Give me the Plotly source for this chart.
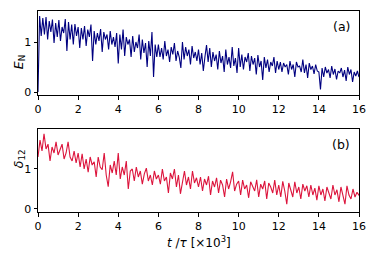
import numpy as np
import plotly.graph_objects as go
from plotly.subplots import make_subplots

# E_N, sampled every 0.08 (x10^3 tau)
e_n = [
    0.00, 1.52, 1.12, 1.48, 1.15, 1.50, 1.05, 1.42, 1.20, 1.45, 0.98, 1.38, 1.10, 1.44, 1.02, 1.30, 1.18, 1.46, 0.82, 1.40, 1.05, 1.35, 0.95, 1.36, 1.12,
    1.30, 0.88, 1.28, 1.05, 1.32, 0.92, 1.25, 1.10, 1.35, 0.62, 1.22, 0.95, 1.18, 1.02, 1.26, 0.80, 1.20, 1.05, 1.15, 0.85, 1.22, 0.95, 1.10, 0.90, 1.18,
    0.57, 1.15, 0.85, 1.25, 0.72, 1.10, 0.95, 1.05, 0.70, 1.12, 0.80, 1.00, 0.88, 1.15, 0.65, 1.05, 0.78, 0.98, 0.50, 1.02, 0.72, 1.20, 0.30, 0.95, 0.70,
    0.95, 0.70, 0.88, 0.65, 1.02, 0.72, 0.85, 0.60, 0.90, 0.75, 0.98, 0.62, 0.82, 0.70, 0.48, 1.00, 0.65, 0.90, 0.72, 0.85, 0.55, 0.92, 0.68, 0.80, 0.62,
    0.85, 0.55, 0.78, 0.42, 0.70, 0.94, 0.60, 0.88, 0.50, 0.80, 0.62, 0.75, 0.45, 0.82, 0.58, 0.72, 0.40, 0.85, 0.55, 0.70, 0.48, 0.90, 0.52, 0.68, 0.38,
    0.88, 0.50, 0.75, 0.45, 0.70, 0.60, 0.78, 0.42, 0.72, 0.55, 0.68, 0.35, 0.74, 0.50, 0.62, 0.24, 0.70, 0.48, 0.65, 0.40, 0.60, 0.52, 0.70, 0.38, 0.62,
    0.45, 0.60, 0.40, 0.58, 0.50, 0.55, 0.35, 0.62, 0.45, 0.55, 0.30, 0.60, 0.50, 0.52, 0.40, 0.65, 0.38, 0.55, 0.28, 0.58, 0.45, 0.52, 0.36, 0.55, 0.42,
    0.40, 0.05, 0.48, 0.30, 0.50, 0.38, 0.45, 0.28, 0.52, 0.35, 0.46, 0.25, 0.42, 0.38, 0.48, 0.30, 0.44, 0.22, 0.50, 0.35, 0.45, 0.20, 0.40, 0.32, 0.42,
    0.30,
]

# delta_12, sampled every 0.1
delta_12 = [
    1.30, 1.72, 1.45, 1.88, 1.50, 1.62, 1.20, 1.55, 1.40, 1.68, 1.35, 1.50, 1.62, 1.25, 1.40, 1.68, 1.30, 1.20, 1.45, 1.15,
    1.40, 1.05, 1.38, 1.00, 1.25, 0.92, 1.30, 1.10, 1.18, 0.80, 1.30, 1.05, 0.98, 1.40, 0.85, 0.56, 1.10, 0.90, 1.20, 0.85,
    1.40, 0.75, 1.05, 0.85, 1.20, 0.50, 0.95, 1.00, 0.70, 1.05, 0.80, 0.95, 0.62, 0.88, 1.02, 0.70, 0.85, 0.60, 0.95, 0.75,
    0.85, 0.62, 1.00, 0.70, 0.80, 0.40, 0.90, 0.75, 1.00, 0.55, 0.85, 0.38, 0.70, 0.95, 0.60, 0.80, 0.50, 0.95, 0.65, 0.78,
    0.55, 0.80, 0.45, 0.75, 0.60, 0.82, 0.35, 0.70, 0.55, 0.78, 0.40, 0.72, 0.60, 0.30, 0.75, 0.50, 0.68, 0.93, 0.45, 0.62,
    0.70, 0.35, 0.72, 0.50, 0.60, 0.28, 0.68, 0.55, 0.45, 0.73, 0.30, 0.62, 0.50, 0.70, 0.25, 0.65, 0.55, 0.40, 0.72, 0.35,
    0.60, 0.30, 0.69, 0.45, 0.12, 0.65, 0.50, 0.30, 0.68, 0.40, 0.55, 0.25, 0.62, 0.45, 0.58, 0.30, 0.60, 0.35, 0.52, 0.22,
    0.58, 0.35, 0.50, 0.20, 0.55, 0.40, 0.25, 0.60, 0.35, 0.48, 0.18, 0.55, 0.30, 0.12, 0.58, 0.35, 0.25, 0.50, 0.30, 0.42,
    0.34,
]

t_top = np.linspace(0, 16, len(e_n))
t_bot = np.linspace(0, 16, len(delta_12))
x_ticks = [0, 2, 4, 6, 8, 10, 12, 14, 16]

FONT = "DejaVu Sans"

fig = make_subplots(rows=2, cols=1, vertical_spacing=0.17)
fig.add_trace(go.Scatter(x=t_top, y=e_n, mode="lines", line=dict(color="#000080", width=1.1), showlegend=False), row=1, col=1)
fig.add_trace(go.Scatter(x=t_bot, y=delta_12, mode="lines", line=dict(color="#DC143C", width=1.1), showlegend=False), row=2, col=1)

axis_style = dict(
    showline=True, mirror=True, linecolor="black", linewidth=1,
    ticks="outside", ticklen=3.5, tickwidth=0.8, tickcolor="black",
    showgrid=False, zeroline=False, automargin=False,
    tickfont=dict(family=FONT, size=11, color="black"),
)

# page body has an 8px margin, so the figure is sized to fit inside the window
fig.update_layout(
    width=358, height=241,
    autosize=False,
    margin=dict(l=30, r=7, t=3, b=37, autoexpand=False),
    paper_bgcolor="white", plot_bgcolor="white",
    font=dict(family=FONT, color="black"),
    xaxis=dict(domain=[0, 1], range=[0, 16], tickvals=x_ticks, **axis_style),
    xaxis2=dict(domain=[0, 1], range=[0, 16], tickvals=x_ticks, **axis_style),
    yaxis=dict(domain=[0.582, 1], range=[-0.06, 1.62], tickvals=[0, 1], **axis_style),
    yaxis2=dict(domain=[0, 0.413], range=[-0.075, 2.0], tickvals=[0, 1], **axis_style),
)

fig.add_annotation(text="(a)", xref="x domain", yref="y domain", x=0.978, y=0.93,
                   xanchor="right", yanchor="top", showarrow=False, font=dict(family=FONT, size=12.5))
fig.add_annotation(text="(b)", xref="x2 domain", yref="y2 domain", x=0.978, y=0.93,
                   xanchor="right", yanchor="top", showarrow=False, font=dict(family=FONT, size=12.5))

fig.add_annotation(text="<i>E</i><sub>N</sub>", xref="paper", yref="paper", x=-0.092, y=0.79,
                   textangle=-90, showarrow=False, font=dict(family=FONT, size=12.5))
fig.add_annotation(text="<i>δ</i><sub>12</sub>", xref="paper", yref="paper", x=-0.092, y=0.21,
                   textangle=-90, showarrow=False, font=dict(family=FONT, size=12.5))
fig.add_annotation(text="<i>t</i> /<i>τ</i> [×10<sup>3</sup>]", xref="paper", yref="paper", x=0.5, y=-0.15,
                   yanchor="middle", showarrow=False, font=dict(family=FONT, size=12))

fig.write_html("out.html")
